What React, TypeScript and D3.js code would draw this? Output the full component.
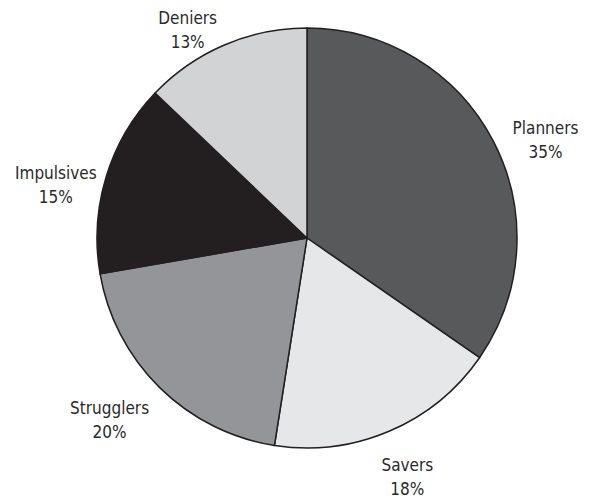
import React from "react";
import * as d3 from "d3";

const categories = ["Planners", "Savers", "Strugglers", "Impulsives", "Deniers"];
const values = [35, 18, 20, 15, 13];
const percentLabels = ["35%", "18%", "20%", "15%", "13%"];
const colors = ["#58595b", "#e6e7e8", "#939598", "#231f20", "#d1d3d4"];

const W = 589;
const H = 500;
const cx = 307;
const cy = 238;
const R = 210;
const labelR = 250;
// label nudges (layout only)
const labelNudge: [number, number][] = [
  [17, 15],
  [2, 7],
  [-22, 1.5],
  [-12, 17.5],
  [-21, 19.5],
];

export default function App() {
  const pie = d3
    .pie<number>()
    .sort(null)
    .value((d) => d);
  const arcs = pie(values);
  const arc = d3.arc<d3.PieArcDatum<number>>().innerRadius(0).outerRadius(R);
  const labelArc = d3
    .arc<d3.PieArcDatum<number>>()
    .innerRadius(labelR)
    .outerRadius(labelR);

  const font = "'DejaVu Sans Condensed', 'Liberation Sans', sans-serif";

  return (
    <svg
      width={W}
      height={H}
      style={{ position: "absolute", left: 0, top: 0, background: "#fff" }}
    >
      <g transform={`translate(${cx},${cy})`}>
        {arcs.map((a, i) => (
          <path
            key={categories[i]}
            d={arc(a) || ""}
            fill={colors[i]}
            stroke="#231f20"
            strokeWidth={1.5}
            strokeLinejoin="round"
          />
        ))}
        {arcs.map((a, i) => {
          const [lx, ly] = labelArc.centroid(a);
          const x = lx + labelNudge[i][0];
          const y = ly + labelNudge[i][1];
          return (
            <text
              key={"l" + categories[i]}
              x={x}
              y={y}
              textAnchor="middle"
              fontFamily={font}
              fontSize={17}
              fill="#2a2a2a"
            >
              <tspan x={x} y={y - 3.5}>
                {categories[i]}
              </tspan>
              <tspan x={x} y={y + 20.5}>
                {percentLabels[i]}
              </tspan>
            </text>
          );
        })}
      </g>
    </svg>
  );
}
